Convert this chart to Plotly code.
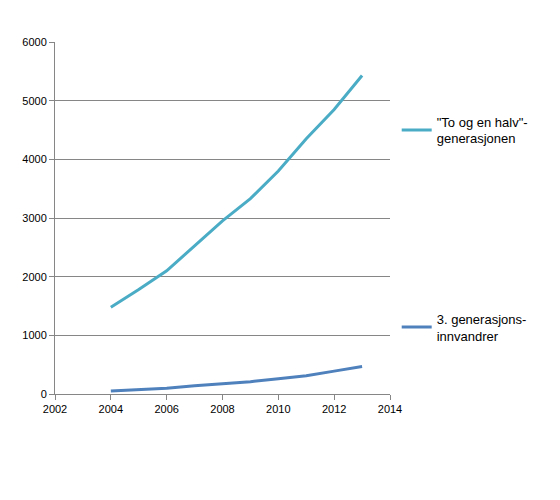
import plotly.graph_objects as go

years = [2004, 2005, 2006, 2007, 2008, 2009, 2010, 2011, 2012, 2013]
to_og_en_halv = [1480, 1780, 2100, 2530, 2950, 3330, 3800, 4350, 4850, 5430]
tredje_gen = [50, 70, 100, 140, 175, 210, 260, 310, 390, 470]

fig = go.Figure()
fig.add_trace(go.Scatter(x=years, y=to_og_en_halv, mode="lines",
                         name='"To og en halv"-<br>generasjonen',
                         line=dict(color="#4bacc6", width=3), legend="legend"))
fig.add_trace(go.Scatter(x=years, y=tredje_gen, mode="lines",
                         name="3. generasjons-<br>innvandrer",
                         line=dict(color="#4f81bd", width=3), legend="legend2"))

legend_style = dict(xanchor="left", yanchor="middle", bgcolor="rgba(0,0,0,0)",
                    font=dict(size=13, color="black"))
fig.update_layout(
    width=560, height=500, showlegend=True,
    margin=dict(l=47, r=178, t=34, b=114),
    plot_bgcolor="white", paper_bgcolor="white",
    font=dict(family="Liberation Sans, Arial", size=11, color="black"),
    legend=dict(x=1.02, y=0.75, **legend_style),
    legend2=dict(x=1.02, y=0.19, **legend_style),
    xaxis=dict(range=[2002, 2014], tickvals=list(range(2002, 2015, 2)),
               showgrid=False, showline=True, linecolor="#868686",
               ticks="outside", tickcolor="#868686", ticklen=5, zeroline=False),
    yaxis=dict(range=[0, 6000], tickvals=list(range(0, 6001, 1000)),
               showgrid=True, gridcolor="#868686", showline=True,
               linecolor="#868686", ticks="outside", tickcolor="#868686",
               ticklen=5, zeroline=False),
)
fig.write_html("out.html")
